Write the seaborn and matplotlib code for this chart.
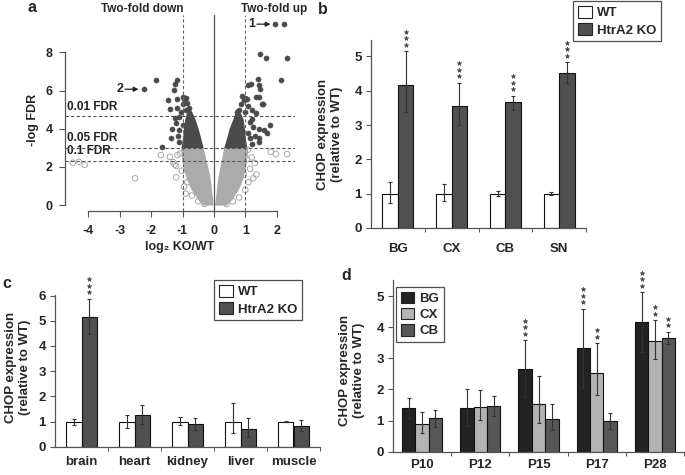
import numpy as np
import pandas as pd
import matplotlib
matplotlib.use("Agg")
import matplotlib.pyplot as plt
import matplotlib.transforms as mtransforms
from matplotlib.patches import Patch
import seaborn as sns

# ---------------- Panel a : volcano plot ----------------
sig_x = [1.94, 2.22, 1.48, 1.65, 2.31, 2.13, 1.41, 1.44, 1.46, 1.10, 1.18, 1.35, 1.44,
         1.54, 1.78, 1.60, 1.70, 1.45, 1.42, 1.14, 1.57, 1.34, 1.14, 1.43, 1.25, 1.00,
         0.90, 0.95, 1.05, 1.10, 1.20, 0.85, 1.00, 1.20, 1.10, 1.20, 1.30, 0.80, 0.75,
         -1.84, -2.22, -1.16, -1.24, -1.26, -1.45, -1.18, -0.97, -0.90, -1.40, -1.16,
         -1.24, -1.34, -1.12, -1.37, -1.66, -1.00, -0.90, -1.05, -1.10, -1.20, -1.15,
         -1.10, -0.85, -1.00, -0.80, -0.95]
sig_y = [9.48, 9.48, 7.94, 7.71, 7.71, 6.54, 6.60, 6.30, 6.10, 6.30, 6.35, 5.67, 5.67,
         5.32, 4.19, 3.92, 3.80, 3.50, 3.30, 3.49, 5.32, 4.80, 4.36, 4.01, 4.10, 5.60,
         5.70, 5.50, 5.55, 5.20, 5.00, 5.30, 4.90, 4.50, 3.80, 3.20, 3.60, 5.00, 4.90,
         6.54, 6.07, 6.54, 6.33, 6.02, 5.50, 5.58, 5.64, 5.60, 5.06, 5.10,
         4.54, 4.01, 3.95, 3.54, 3.05, 5.30, 5.00, 4.90, 4.60, 4.30, 3.60,
         3.30, 5.35, 4.20, 5.10, 5.55]
ns_x = [-4.49, -4.30, -4.11, -2.51, -1.69, -1.40, -1.16, -1.25, -1.20, -1.20, -0.95,
        -0.90, -1.30, -1.08, -1.02, -0.85, -0.70, -0.50, -0.30,
        1.81, 1.97, 2.33, 1.20, 1.30, 1.35, 1.25, 1.15, 1.10, 1.00, 0.80, 0.60, 0.40,
        1.08, 1.05, 0.95]
ns_y = [2.22, 2.27, 2.11, 1.40, 2.62, 2.53, 2.62, 2.12, 2.05, 1.45, 0.97,
        0.60, 2.25, 2.70, 1.80, 1.20, 0.50, 0.20, 0.06,
        2.79, 2.67, 2.67, 2.50, 2.20, 1.60, 1.40, 1.90, 1.20, 0.80, 0.40, 0.20, 0.05,
        2.90, 2.40, 1.60]
# envelope of the dense (non-significant) cloud
light_y = [0.0, 0.3, 0.7, 1.0, 1.5, 2.0, 2.5, 3.0]
light_left_outer = [-0.35, -0.52, -0.68, -0.78, -0.90, -0.98, -1.03, -1.07]
light_left_inner = [-0.03, -0.04, -0.07, -0.09, -0.13, -0.20, -0.27, -0.34]
light_right_inner = [0.02, 0.04, 0.07, 0.09, 0.13, 0.19, 0.25, 0.31]
light_right_outer = [0.40, 0.57, 0.73, 0.83, 0.94, 1.00, 1.05, 1.08]
# envelope of the dense significant cloud
dark_y = [3.0, 3.5, 4.0, 4.5, 4.8, 5.05]
dark_left_outer = [-1.05, -1.00, -0.97, -0.93, -0.88, -0.80]
dark_left_inner = [-0.34, -0.42, -0.50, -0.60, -0.68, -0.76]
dark_right_inner = [0.31, 0.40, 0.48, 0.60, 0.66, 0.70]
dark_right_outer = [1.05, 1.00, 0.97, 0.93, 0.85, 0.74]
fdr_levels = [4.65, 3.0, 2.32]
fdr_labels = ["0.01 FDR", "0.05 FDR", "0.1 FDR"]
fold_lines = [-1, 1]

# ---------------- Panel b ----------------
regions = ["BG", "CX", "CB", "SN"]
groups_b = ["WT", "HtrA2 KO"]
wt_b = [1.0, 1.0, 1.0, 1.0]
wt_b_lo = [0.26, 0.22, 0.08, 0.05]
wt_b_hi = [0.33, 0.28, 0.08, 0.06]
ko_b = [4.16, 3.56, 3.66, 4.53]
ko_b_lo = [0.78, 0.57, 0.21, 0.31]
ko_b_hi = [0.99, 0.68, 0.19, 0.30]
stars_b_wt = [0, 0, 0, 0]
stars_b_ko = [3, 3, 3, 3]

# ---------------- Panel c ----------------
tissues = ["brain", "heart", "kidney", "liver", "muscle"]
wt_c = [1.0, 1.0, 1.0, 1.0, 1.0]
wt_c_lo = [0.12, 0.24, 0.14, 0.46, 0.03]
wt_c_hi = [0.10, 0.25, 0.16, 0.74, 0.03]
ko_c = [5.15, 1.26, 0.90, 0.70, 0.83]
ko_c_lo = [0.67, 0.34, 0.25, 0.33, 0.21]
ko_c_hi = [0.72, 0.40, 0.25, 0.43, 0.21]
stars_c_wt = [0, 0, 0, 0, 0]
stars_c_ko = [3, 0, 0, 0, 0]

# ---------------- Panel d ----------------
ages = ["P10", "P12", "P15", "P17", "P28"]
groups_d = ["BG", "CX", "CB"]
bg_d = [1.41, 1.41, 2.67, 3.32, 4.16]
bg_d_lo = [0.33, 0.59, 0.92, 1.27, 0.97]
bg_d_hi = [0.33, 0.59, 0.92, 1.27, 0.97]
cx_d = [0.88, 1.43, 1.52, 2.52, 3.57]
cx_d_lo = [0.29, 0.41, 0.59, 0.71, 0.59]
cx_d_hi = [0.41, 0.55, 0.91, 0.96, 0.66]
cb_d = [1.07, 1.46, 1.05, 0.98, 3.65]
cb_d_lo = [0.27, 0.30, 0.35, 0.26, 0.19]
cb_d_hi = [0.27, 0.33, 0.48, 0.26, 0.20]
stars_d_bg = [0, 0, 3, 3, 3]
stars_d_cx = [0, 0, 0, 2, 2]
stars_d_cb = [0, 0, 0, 0, 2]

# ---------------- style ----------------
sns.set_style("ticks")
plt.rcParams["font.family"] = ["Liberation Sans", "DejaVu Sans"]
plt.rcParams["font.weight"] = "bold"
plt.rcParams["axes.labelweight"] = "bold"
plt.rcParams["axes.unicode_minus"] = False

W, H = 685, 475
fig = plt.figure(figsize=(W / 100, H / 100), dpi=100)


def box(l, t, r, b):
    return [l / W, 1 - b / H, (r - l) / W, (b - t) / H]


AX_COL = "#555555"
FS = 9


def add_stars(ax, x, ytop, n, first=6.5, step=6.5):
    for k in range(n):
        tr = mtransforms.offset_copy(ax.transData, fig=fig, x=0, y=first + step * k, units="dots")
        ax.plot([x], [ytop], marker="*", ms=3.4, color="#444444", mec="#444444", mew=0.4,
                linestyle="none", transform=tr, clip_on=False)


def bar_panel(ax, cats, groups, values, lo, hi, colors, width, stars, ylim, yticks, pad_x):
    df = pd.DataFrame({
        "cat": np.tile(cats, len(groups)),
        "group": np.repeat(groups, len(cats)),
        "val": np.concatenate([np.asarray(v, float) for v in values]),
    })
    sns.barplot(data=df, x="cat", y="val", hue="group", order=cats, hue_order=groups,
                palette=dict(zip(groups, colors)), width=width, saturation=1,
                edgecolor="#111111", linewidth=0.8, errorbar=None, legend=False, ax=ax)
    conts = list(ax.containers)
    for gi, cont in enumerate(conts):
        xs = [b.get_x() + b.get_width() / 2 for b in cont]
        hs = [b.get_height() for b in cont]
        ax.errorbar(xs, hs, yerr=[lo[gi], hi[gi]], fmt="none", ecolor="#333333",
                    elinewidth=0.8, capsize=1.6, capthick=0.8, zorder=4)
        for x, h, u, n in zip(xs, hs, hi[gi], stars[gi]):
            add_stars(ax, x, h + u, n)
    ax.set_xlim(-0.5, len(cats) - 0.5)
    ax.set_ylim(*ylim)
    ax.set_yticks(yticks)
    ax.set_xlabel("")
    ax.set_ylabel("")
    ax.set_xticks(range(len(cats)))
    ax.set_xticklabels(cats, fontsize=FS + 0.5, fontweight="bold")
    ax.set_xticks(np.arange(0.5, len(cats), 1.0), minor=True)
    ax.tick_params(axis="x", which="major", length=0, pad=pad_x)
    ax.tick_params(axis="x", which="minor", length=3, width=0.7, color=AX_COL)
    ax.tick_params(axis="y", length=3.5, width=0.8, color=AX_COL, labelsize=FS + 0.5, pad=3)
    for lab in ax.get_yticklabels():
        lab.set_fontweight("bold")
    for s in ["top", "right"]:
        ax.spines[s].set_visible(False)
    for s in ["left", "bottom"]:
        ax.spines[s].set_color(AX_COL)
        ax.spines[s].set_linewidth(0.9)


def legend_box(ax, labels, colors, anchor_px, size=1.1, spacing=0.25):
    handles = [Patch(facecolor=c, edgecolor="#222222", linewidth=0.8) for c in colors]
    leg = ax.legend(handles, labels, loc="upper left",
                    bbox_to_anchor=(anchor_px[0] / W, 1 - anchor_px[1] / H),
                    bbox_transform=fig.transFigure, frameon=True, fancybox=False,
                    handlelength=size, handleheight=size, handletextpad=0.4,
                    borderpad=0.35, labelspacing=spacing, borderaxespad=0,
                    prop={"size": FS + 0.5, "weight": "bold"})
    leg.get_frame().set_edgecolor("#222222")
    leg.get_frame().set_linewidth(0.9)
    return leg


# ================= Panel a =================
axa = fig.add_axes(box(65, 15, 295, 211))
axa.fill_betweenx(light_y, light_left_outer, light_left_inner, color="#ababab", lw=0, zorder=1)
axa.fill_betweenx(light_y, light_right_inner, light_right_outer, color="#ababab", lw=0, zorder=1)
axa.fill_betweenx(dark_y, dark_left_outer, dark_left_inner, color="#4a4a4a", lw=0, zorder=2)
axa.fill_betweenx(dark_y, dark_right_inner, dark_right_outer, color="#4a4a4a", lw=0, zorder=2)
sns.scatterplot(x=ns_x, y=ns_y, ax=axa, marker="o", s=16, facecolor="none",
                edgecolor="#a8a8a8", linewidth=0.7, zorder=2)
sns.scatterplot(x=sig_x, y=sig_y, ax=axa, marker="o", s=14, color="#4a4a4a",
                edgecolor="#4a4a4a", linewidth=0.3, zorder=3)
axa.axvline(0, color="#555555", lw=0.9, zorder=4)
for xv in fold_lines:
    axa.axvline(xv, color="#666666", lw=0.8, ls=(0, (3, 2)), zorder=4)
for yv, lab in zip(fdr_levels, fdr_labels):
    axa.axhline(yv, color="#555555", lw=0.8, ls=(0, (3, 2)), zorder=4)
    axa.annotate(lab, xy=(-4.68, yv), xytext=(0, 2.5), textcoords="offset points",
                 ha="left", va="bottom", fontsize=8.5, fontweight="bold", color="#222222")
axa.set_xlim(-4.74, 2.58)
axa.set_ylim(-0.31, 9.96)
axa.set_xticks([-4, -3, -2, -1, 0, 1, 2])
axa.set_yticks([0, 2, 4, 6, 8])
axa.spines["left"].set_bounds(0, 8)
axa.spines["bottom"].set_bounds(-4, 2)
for s in ["top", "right"]:
    axa.spines[s].set_visible(False)
for s in ["left", "bottom"]:
    axa.spines[s].set_color(AX_COL)
    axa.spines[s].set_linewidth(0.9)
axa.tick_params(axis="both", length=4, width=0.8, color=AX_COL, labelsize=FS)
axa.tick_params(axis="x", pad=6)
axa.tick_params(axis="y", pad=5)
for lab in axa.get_xticklabels() + axa.get_yticklabels():
    lab.set_fontweight("bold")
axa.annotate("", xy=(1.80, 9.48), xytext=(1.37, 9.48),
             arrowprops=dict(arrowstyle="-|>", color="#222222", lw=0.9,
                             mutation_scale=7, shrinkA=0, shrinkB=0))
axa.text(1.20, 9.48, "1", ha="center", va="center", fontsize=9, fontweight="bold")
axa.annotate("", xy=(-2.40, 6.07), xytext=(-2.83, 6.07),
             arrowprops=dict(arrowstyle="-|>", color="#222222", lw=0.9,
                             mutation_scale=7, shrinkA=0, shrinkB=0))
axa.text(-3.00, 6.07, "2", ha="center", va="center", fontsize=9, fontweight="bold")
fig.text(142 / W, 1 - 9 / H, "Two-fold down", ha="center", va="center", fontsize=8.5, fontweight="bold")
fig.text(274 / W, 1 - 9 / H, "Two-fold up", ha="center", va="center", fontsize=8.5, fontweight="bold")
fig.text(33 / W, 1 - 120 / H, "-log FDR", rotation=90, ha="center", va="center", fontsize=9, fontweight="bold")
fig.text(180 / W, 1 - 247 / H, "log\u2082 KO/WT", ha="center", va="center", fontsize=9, fontweight="bold")

# ================= Panel b =================
axb = fig.add_axes(box(371, 40, 586, 228))
bar_panel(axb, regions, groups_b, [wt_b, ko_b], [wt_b_lo, ko_b_lo], [wt_b_hi, ko_b_hi],
          ["white", "#505050"], 0.58, [stars_b_wt, stars_b_ko], (0, 5.48), range(0, 6), 11)
legend_box(axb, groups_b, ["white", "#505050"], (573, 1))
fig.text(330 / W, 1 - 134 / H, "CHOP expression\n(relative to WT)", rotation=90,
         ha="center", va="center", fontsize=9.5, fontweight="bold", linespacing=1.15)

# ================= Panel c =================
axc = fig.add_axes(box(55, 295, 320, 446.7))
bar_panel(axc, tissues, groups_b, [wt_c, ko_c], [wt_c_lo, ko_c_lo], [wt_c_hi, ko_c_hi],
          ["white", "#505050"], 0.585, [stars_c_wt, stars_c_ko], (0, 6.02), range(0, 7), 7)
legend_box(axc, groups_b, ["white", "#505050"], (214, 280))
fig.text(18 / W, 1 - 367 / H, "CHOP expression\n(relative to WT)", rotation=90,
         ha="center", va="center", fontsize=9.5, fontweight="bold", linespacing=1.15)

# ================= Panel d =================
axd = fig.add_axes(box(393, 280, 684, 451.7))
bar_panel(axd, ages, groups_d, [bg_d, cx_d, cb_d], [bg_d_lo, cx_d_lo, cb_d_lo],
          [bg_d_hi, cx_d_hi, cb_d_hi], ["#222222", "#b3b3b3", "#575757"], 0.69,
          [stars_d_bg, stars_d_cx, stars_d_cb], (0, 5.52), range(0, 6), 5)
legend_box(axd, groups_d, ["#222222", "#b3b3b3", "#575757"], (396, 287), size=1.0, spacing=0.2)
fig.text(352 / W, 1 - 370 / H, "CHOP expression\n(relative to WT)", rotation=90,
         ha="center", va="center", fontsize=9.5, fontweight="bold", linespacing=1.15)

# panel letters
for lab, (px, py) in {"a": (32, 8), "b": (323, 9), "c": (7, 283), "d": (346, 275)}.items():
    fig.text(px / W, 1 - py / H, lab, ha="center", va="center", fontsize=11.5, fontweight="bold")

fig.savefig("out.png", dpi=100)
